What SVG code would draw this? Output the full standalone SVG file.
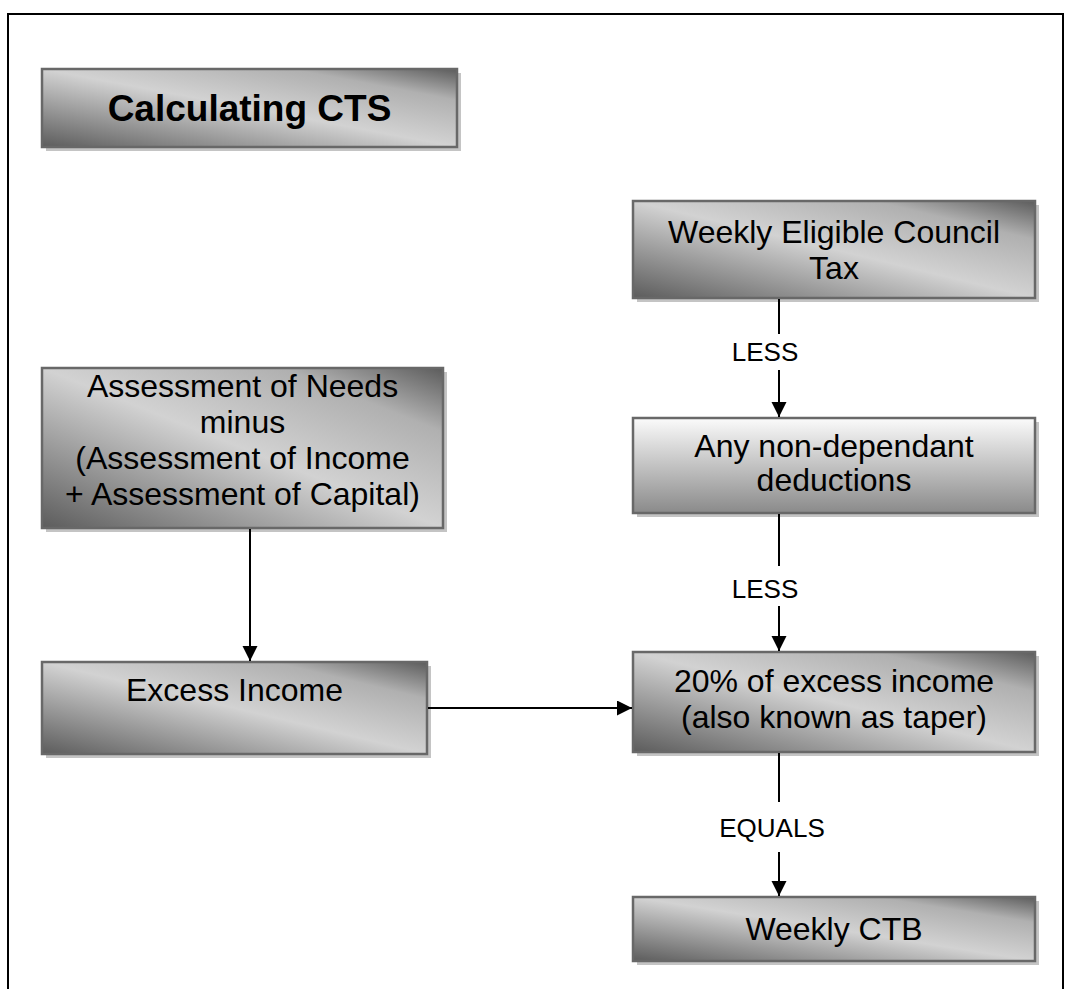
<svg xmlns="http://www.w3.org/2000/svg" width="1077" height="989" viewBox="0 0 1077 989">
<style>
.box{stroke:#686868;stroke-width:2.5}
.diag{fill:url(#gDiag)}
.vert{fill:url(#gVert)}
.shadow{fill:#c4c4c4}
.t{font-family:"Liberation Sans",Arial,sans-serif;font-size:32px;fill:#000;text-anchor:middle}
.title{font-family:"Liberation Sans",Arial,sans-serif;font-size:37px;font-weight:bold;fill:#000;text-anchor:middle}
.lbl{font-family:"Liberation Sans",Arial,sans-serif;font-size:26px;fill:#000;text-anchor:middle}
.ln{stroke:#000;stroke-width:2;fill:none}
</style>
<defs>
<linearGradient id="gDiag" x1="0" y1="1" x2="1" y2="0">
<stop offset="0" stop-color="#5c5c5c"/>
<stop offset="0.5" stop-color="#d2d2d2"/>
<stop offset="0.8" stop-color="#b0b0b0"/>
<stop offset="1" stop-color="#5c5c5c"/>
</linearGradient>
<linearGradient id="gVert" x1="0" y1="0" x2="0" y2="1">
<stop offset="0" stop-color="#fbfbfb"/>
<stop offset="1" stop-color="#8a8a8a"/>
</linearGradient>
<marker id="arr" markerWidth="16" markerHeight="16" refX="15" refY="7.5" orient="auto" markerUnits="userSpaceOnUse">
<path d="M0,0 L15,7.5 L0,15 z" fill="#000"/>
</marker>
</defs>
<rect x="0" y="0" width="1077" height="989" fill="#fff"/>
<rect x="8" y="14" width="1055" height="1000" fill="none" stroke="#000" stroke-width="2"/>

<g id="title">
<rect class="shadow" x="46" y="73" width="415" height="78"/>
<rect class="box diag" x="42" y="69" width="415" height="78"/>
<text class="title" x="249.5" y="121">Calculating CTS</text>
</g>

<g id="weekly-eligible">
<rect class="shadow" x="637" y="205" width="402" height="97"/>
<rect class="box diag" x="633" y="201" width="402" height="97"/>
<text class="t" x="834" y="243">Weekly Eligible Council</text>
<text class="t" x="834" y="279">Tax</text>
</g>

<g id="non-dependant">
<rect class="shadow" x="637" y="422" width="402" height="95"/>
<rect class="box vert" x="633" y="418" width="402" height="95"/>
<text class="t" x="834" y="457">Any non-dependant</text>
<text class="t" x="834" y="491">deductions</text>
</g>

<g id="assessment">
<rect class="shadow" x="46" y="372" width="401" height="160"/>
<rect class="box diag" x="42" y="368" width="401" height="160"/>
<text class="t" x="242.5" y="397">Assessment of Needs</text>
<text class="t" x="242.5" y="433">minus</text>
<text class="t" x="242.5" y="469">(Assessment of Income</text>
<text class="t" x="242.5" y="505">+ Assessment of Capital)</text>
</g>

<g id="excess-income">
<rect class="shadow" x="46" y="666" width="385" height="92"/>
<rect class="box diag" x="42" y="662" width="385" height="92"/>
<text class="t" x="234.5" y="701">Excess Income</text>
</g>

<g id="taper">
<rect class="shadow" x="637" y="656" width="402" height="100"/>
<rect class="box diag" x="633" y="652" width="402" height="100"/>
<text class="t" x="834" y="692">20% of excess income</text>
<text class="t" x="834" y="728">(also known as taper)</text>
</g>

<g id="weekly-ctb">
<rect class="shadow" x="637" y="901" width="402" height="64"/>
<rect class="box diag" x="633" y="897" width="402" height="64"/>
<text class="t" x="834" y="940">Weekly CTB</text>
</g>

<g id="connectors">
<line class="ln" x1="779" y1="299" x2="779" y2="334"/>
<line class="ln" x1="779" y1="370" x2="779" y2="417" marker-end="url(#arr)"/>
<line class="ln" x1="779" y1="514" x2="779" y2="566"/>
<line class="ln" x1="779" y1="606" x2="779" y2="651" marker-end="url(#arr)"/>
<line class="ln" x1="779" y1="753" x2="779" y2="802"/>
<line class="ln" x1="779" y1="852" x2="779" y2="896" marker-end="url(#arr)"/>
<line class="ln" x1="250" y1="529" x2="250" y2="661" marker-end="url(#arr)"/>
<line class="ln" x1="428" y1="708" x2="632" y2="708" marker-end="url(#arr)"/>
<text class="lbl" x="765" y="361">LESS</text>
<text class="lbl" x="765" y="598">LESS</text>
<text class="lbl" x="772" y="837">EQUALS</text>
</g>
</svg>
